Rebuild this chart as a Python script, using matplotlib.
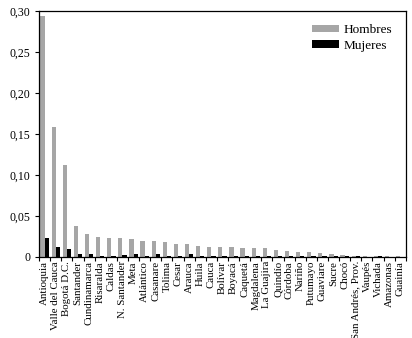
import numpy as np
import matplotlib
matplotlib.use("Agg")
import matplotlib.pyplot as plt
from matplotlib.ticker import FixedLocator, FuncFormatter

plt.rcParams['font.family'] = ['Liberation Serif', 'DejaVu Serif']

# Departments (ordered as in the reference)
departamentos = [
    "Antioquia", "Valle del Cauca", "Bogotá D.C.", "Santander", "Cundinamarca",
    "Risaralda", "Caldas", "N. Santander", "Meta", "Atlántico", "Casanare",
    "Tolima", "Cesar", "Arauca", "Huila", "Cauca", "Bolívar", "Boyacá",
    "Caquetá", "Magdalena", "La Guajira", "Quindío", "Córdoba", "Nariño",
    "Putumayo", "Guaviare", "Sucre", "Chocó", "San Andrés, Prov.", "Vaupés",
    "Vichada", "Amazonas", "Guainía",
]

hombres = [
    0.2935, 0.158, 0.112, 0.0374, 0.0285, 0.024, 0.0228, 0.0228, 0.0215, 0.019,
    0.019, 0.018, 0.0155, 0.0155, 0.013, 0.0125, 0.0125, 0.0125, 0.0105, 0.0105,
    0.0105, 0.009, 0.007, 0.0055, 0.0055, 0.0045, 0.003, 0.002, 0.001, 0.0008,
    0.0008, 0.0008, 0.0008,
]

mujeres = [
    0.0228, 0.0118, 0.0093, 0.0033, 0.0033, 0.001, 0.001, 0.002, 0.0033, 0.001,
    0.0033, 0.001, 0.001, 0.0033, 0.001, 0.001, 0.001, 0.001, 0.001, 0.001,
    0.001, 0.001, 0.0008, 0.0008, 0.0008, 0.0006, 0.0006, 0.0006, 0.001, 0.0004,
    0.001, 0.0004, 0.0004,
]

y_ticks = [0, 0.05, 0.10, 0.15, 0.20, 0.25, 0.30]

x = np.arange(len(departamentos))
w = 0.38

fig = plt.figure(figsize=(4.12, 3.38), dpi=100)
ax = fig.add_axes([0.095, 0.24, 0.89, 0.727])

ax.bar(x - w / 2, hombres, width=w, color="#a6a6a6", label="Hombres")
ax.bar(x + w / 2, mujeres, width=w, color="#000000", label="Mujeres")

ax.set_xlim(-0.5, len(departamentos) - 0.5)
ax.set_ylim(0, 0.30)

ax.set_xticks(x)
ax.set_xticklabels(departamentos, rotation=90, fontsize=7.8)
ax.tick_params(axis="x", which="major", length=0, pad=3)
ax.xaxis.set_minor_locator(FixedLocator(np.arange(-0.5, len(departamentos), 1.0)))
ax.tick_params(axis="x", which="minor", length=3, width=0.8, direction="out")

ax.set_yticks(y_ticks)
ax.yaxis.set_major_formatter(FuncFormatter(
    lambda v, p: "0" if v == 0 else f"{v:.2f}".replace(".", ",")))
ax.tick_params(axis="y", labelsize=8.5, length=3, width=0.8, direction="out")

for s in ax.spines.values():
    s.set_linewidth(0.9)

ax.legend(loc="upper right", frameon=False, fontsize=9.5, handlelength=2.1,
          handleheight=0.5, labelspacing=0.25, borderaxespad=0.6,
          handletextpad=0.35)

fig.savefig("out.png", dpi=100)
